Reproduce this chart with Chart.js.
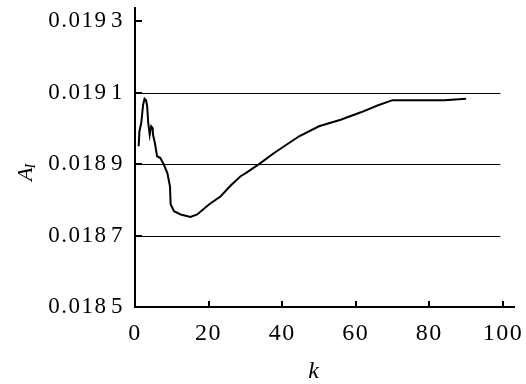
<!DOCTYPE html>
<html>
<head>
<meta charset="utf-8">
<script src="https://cdn.jsdelivr.net/npm/chart.js@4.4.1/dist/chart.umd.min.js"></script>
<style>
  html, body { margin: 0; padding: 0; background: #fff; }
  #wrap { width: 526px; height: 384px; position: relative; }
</style>
</head>
<body>
<div id="wrap"><canvas id="c" width="526" height="384"></canvas></div>
<script>
const kValues = [1.0, 1.2, 1.7, 2.2, 2.6, 3.0, 3.3, 3.6, 4.0, 4.4, 4.8, 4.9, 5.4, 6.0, 6.9, 7.8, 8.8, 9.5, 9.7, 10.6, 12.4, 15.1, 16.9, 20.1, 23.3, 26.0, 28.7, 30.1, 33.7, 37.8, 44.6, 50.0, 55.9, 61.4, 65.9, 70.0, 84.1, 90.0];
const aValues = [0.018950, 0.018992, 0.019015, 0.019066, 0.019083, 0.019079, 0.019062, 0.019015, 0.018982, 0.019006, 0.019001, 0.018982, 0.018959, 0.018922, 0.018917, 0.018899, 0.018875, 0.018838, 0.018787, 0.018768, 0.018759, 0.018752, 0.018759, 0.018787, 0.018810, 0.018840, 0.018866, 0.018875, 0.018900, 0.018931, 0.018978, 0.019006, 0.019024, 0.019045, 0.019064, 0.019079, 0.019079, 0.019083];
const xTickValues = [0, 20, 40, 60, 80, 100];
const yTickValues = [0.0185, 0.0187, 0.0189, 0.0191, 0.0193];
const yTickLabels = ['0.018\u200A5', '0.018\u200A7', '0.018\u200A9', '0.019\u200A1', '0.019\u200A3'];
const gridValues = [0.0187, 0.0189, 0.0191];

const FONT = "'Liberation Serif', 'Times New Roman', Times, serif";
const points = kValues.map((k, i) => ({ x: k, y: aValues[i] }));

const decor = {
  id: 'decor',
  beforeUpdate(chart) { chart.ctx.letterSpacing = '1.5px'; },
  beforeDraw(chart) { chart.ctx.letterSpacing = '1.5px'; },
  beforeDatasetsDraw(chart) {
    const ctx = chart.ctx, xs = chart.scales.x, ys = chart.scales.y;
    ctx.save();
    ctx.strokeStyle = '#000';
    ctx.lineWidth = 1;
    const x0 = xs.getPixelForValue(0), x1 = xs.getPixelForValue(99.3);
    gridValues.forEach(v => {
      const y = Math.round(ys.getPixelForValue(v)) + 0.5;
      ctx.beginPath(); ctx.moveTo(x0, y); ctx.lineTo(x1, y); ctx.stroke();
    });
    ctx.restore();
  },
  afterDraw(chart) {
    const ctx = chart.ctx, xs = chart.scales.x, ys = chart.scales.y;
    ctx.save();
    ctx.letterSpacing = '0px';
    ctx.strokeStyle = '#000';
    ctx.lineWidth = 2;
    const left = chart.chartArea.left, bottom = chart.chartArea.bottom;
    yTickValues.forEach(v => {
      const y = Math.round(ys.getPixelForValue(v));
      ctx.beginPath(); ctx.moveTo(left, y); ctx.lineTo(left + 7, y); ctx.stroke();
    });
    xTickValues.forEach(v => {
      if (v === 0) return;
      const x = Math.round(xs.getPixelForValue(v));
      ctx.beginPath(); ctx.moveTo(x, bottom); ctx.lineTo(x, bottom - 6); ctx.stroke();
    });
    ctx.fillStyle = '#000';
    ctx.font = 'italic 24px ' + FONT;
    ctx.textAlign = 'center';
    ctx.textBaseline = 'alphabetic';
    ctx.fillText('k', xs.getPixelForValue(48.5), 378);
    ctx.translate(32, 181);
    ctx.rotate(-Math.PI / 2);
    ctx.textAlign = 'left';
    ctx.font = 'italic 22px ' + FONT;
    ctx.fillText('A', 0, 0);
    const w = ctx.measureText('A').width;
    ctx.font = 'italic 14px ' + FONT;
    ctx.fillText('I', w - 1, 3);
    ctx.restore();
  }
};

new Chart(document.getElementById('c'), {
  type: 'scatter',
  data: {
    datasets: [{
      data: points,
      showLine: true,
      borderColor: '#000',
      borderWidth: 2,
      pointRadius: 0,
      tension: 0,
      fill: false
    }]
  },
  options: {
    responsive: false,
    animation: false,
    layout: { padding: { top: 8, right: 12, left: 0, bottom: 0 } },
    plugins: { legend: { display: false }, tooltip: { enabled: false } },
    scales: {
      x: {
        type: 'linear',
        min: 0,
        max: 103,
        afterBuildTicks: s => { s.ticks = xTickValues.map(v => ({ value: v })); },
        afterFit: s => { s.height = 77; s.paddingLeft = 0; s.paddingRight = 0; },
        grid: { display: false, drawTicks: false },
        border: { display: true, color: '#000', width: 2 },
        ticks: {
          color: '#000',
          padding: 12,
          font: { family: FONT, size: 24 },
          maxRotation: 0,
          callback: v => String(v)
        }
      },
      y: {
        type: 'linear',
        min: 0.0185,
        max: 0.019337,
        afterBuildTicks: s => { s.ticks = yTickValues.map(v => ({ value: v })); },
        afterFit: s => { s.width = 135; s.paddingTop = 0; s.paddingBottom = 0; },
        grid: { display: false, drawTicks: false },
        border: { display: true, color: '#000', width: 2 },
        ticks: {
          color: '#000',
          padding: 11,
          font: { family: FONT, size: 23 },
          callback: (v, i) => yTickLabels[i]
        }
      }
    }
  },
  plugins: [decor]
});
</script>
</body>
</html>
